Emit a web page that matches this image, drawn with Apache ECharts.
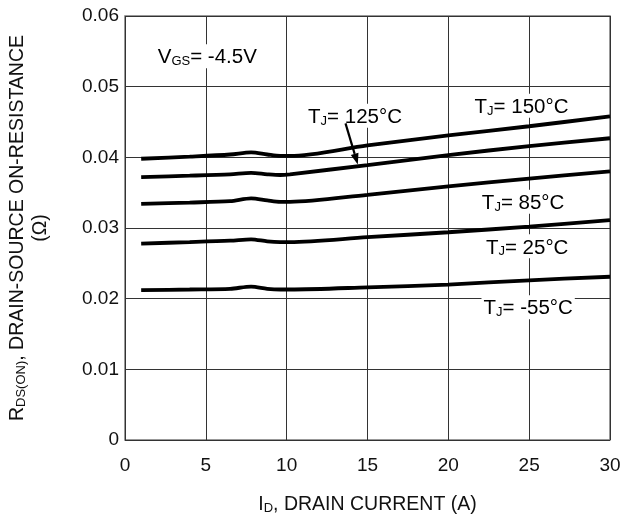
<!DOCTYPE html>
<html><head><meta charset="utf-8">
<script src="https://cdn.jsdelivr.net/npm/echarts@6/dist/echarts.min.js"></script>
<style>html,body{margin:0;padding:0;background:#fff}#c{width:625px;height:520px}</style>
</head><body><div id="c"></div>
<script>
var xTicks = [0, 5, 10, 15, 20, 25, 30];
var yTicks = [0, 0.01, 0.02, 0.03, 0.04, 0.05, 0.06];
var currentA = [1, 4, 6.5, 7.8, 8.8, 9.6, 10.2, 15, 20, 25, 30];
var r150 = [0.0398, 0.0401, 0.0404, 0.0407, 0.0404, 0.0402, 0.0402, 0.0417, 0.0431, 0.0444, 0.0458];
var r125 = [0.0372, 0.0374, 0.0376, 0.0378, 0.0376, 0.0375, 0.0376, 0.0389, 0.0403, 0.0416, 0.0427];
var r85  = [0.0334, 0.0336, 0.0338, 0.0342, 0.0339, 0.0337, 0.0337, 0.0347, 0.0359, 0.0370, 0.0380];
var r25  = [0.0278, 0.0280, 0.0282, 0.0284, 0.0281, 0.0280, 0.0280, 0.0287, 0.0294, 0.0302, 0.0311];
var rm55 = [0.0212, 0.0213, 0.0214, 0.0217, 0.0214, 0.0213, 0.0213, 0.0216, 0.0220, 0.0226, 0.0231];
var seriesNames = ['150', '125', '85', '25', '-55'];
var seriesVals = [r150, r125, r85, r25, rm55];
// annotations: rich text and anchor (left edge, vertical middle) in data coords
var annTexts = [
  '{m|V}{s|GS}{m|= -4.5V}',
  '{m|T}{s|J}{m|= 125\u00B0C}',
  '{m|T}{s|J}{m|= 150\u00B0C}',
  '{m|T}{s|J}{m|= 85\u00B0C}',
  '{m|T}{s|J}{m|= 25\u00B0C}',
  '{m|T}{s|J}{m|= -55\u00B0C}'
];
var annX = [1.9, 11.2, 21.5, 21.95, 22.2, 22.05];
var annY = [0.0543, 0.0459, 0.0473, 0.0337, 0.0274, 0.0188];
var arrowFrom = [13.64, 0.0448];
var arrowTo = [14.40, 0.0390];

var FONT = '"Liberation Sans", Arial, Helvetica, sans-serif';
var chart = echarts.init(document.getElementById('c'), null, {renderer: 'canvas'});
function mk(v) { return currentA.map(function (x, i) { return [x, v[i]]; }); }
var series = seriesVals.map(function (v, i) {
  return {
    name: seriesNames[i], type: 'line', data: mk(v), smooth: 0.3, symbol: 'none',
    lineStyle: {color: '#000', width: 3.8}, z: 3
  };
});
var richM = {
  m: {fontSize: 20.5, fontFamily: FONT, color: '#111', lineHeight: 24, verticalAlign: 'bottom'},
  s: {fontSize: 13, fontFamily: FONT, color: '#111', lineHeight: 4, verticalAlign: 'bottom'}
};
var axisRich = {
  m: {fontSize: 19.5, fontFamily: FONT, color: '#111', lineHeight: 23, verticalAlign: 'bottom'},
  s: {fontSize: 13, fontFamily: FONT, color: '#111', lineHeight: 4, verticalAlign: 'bottom'}
};
chart.setOption({
  animation: false,
  backgroundColor: '#fff',
  grid: {left: 123, right: 15, top: 16, bottom: 70, show: true, borderColor: '#777', borderWidth: 1.5, backgroundColor: 'transparent'},
  xAxis: {
    type: 'value', min: 0, max: 30, interval: 5,
    axisLine: {show: false}, axisTick: {show: false},
    axisLabel: {fontSize: 19, fontFamily: FONT, color: '#111', margin: 16,
      formatter: function (v) { return xTicks.indexOf(v) >= 0 ? String(v) : ''; }},
    splitLine: {show: true, lineStyle: {color: '#333', width: 1}},
    name: '{m|I}{s|D}{m|, DRAIN CURRENT (A)}', nameLocation: 'middle', nameGap: 52,
    nameTextStyle: {rich: axisRich}
  },
  yAxis: {
    type: 'value', min: 0, max: 0.06, interval: 0.01,
    axisLine: {show: false}, axisTick: {show: false},
    axisLabel: {fontSize: 19, fontFamily: FONT, color: '#111', margin: 6,
      formatter: function (v) { var i = yTicks.findIndex(function (t) { return Math.abs(t - v) < 1e-9; }); return i < 0 ? '' : (i === 0 ? '0' : yTicks[i].toFixed(2)); }},
    splitLine: {show: true, lineStyle: {color: '#333', width: 1}},
    name: '{m|R}{s|DS(ON)}{m|, DRAIN-SOURCE ON-RESISTANCE}\n{m|(\u03A9)}', nameLocation: 'middle', nameGap: 74, nameRotate: 90,
    nameTextStyle: {rich: axisRich, align: 'center'}
  },
  series: series
});

var g = [];
annTexts.forEach(function (t, i) {
  var p = chart.convertToPixel({gridIndex: 0}, [annX[i], annY[i]]);
  g.push({type: 'text', x: p[0], y: p[1], z: 10,
    style: {text: t, rich: richM, align: 'left', verticalAlign: 'middle', backgroundColor: '#fff', padding: [0, 2, 0, 2]}});
});
var a0 = chart.convertToPixel({gridIndex: 0}, arrowFrom);
var a1 = chart.convertToPixel({gridIndex: 0}, arrowTo);
var dx = a1[0] - a0[0], dy = a1[1] - a0[1], L = Math.sqrt(dx * dx + dy * dy);
var ux = dx / L, uy = dy / L, hl = 11, hw = 4;
var bx = a1[0] - ux * hl, by = a1[1] - uy * hl;
g.push({type: 'line', z: 11, shape: {x1: a0[0], y1: a0[1], x2: bx, y2: by}, style: {stroke: '#000', lineWidth: 2.2}});
g.push({type: 'polygon', z: 11, shape: {points: [[a1[0], a1[1]], [bx - uy * hw, by + ux * hw], [bx + uy * hw, by - ux * hw]]}, style: {fill: '#000'}});
chart.setOption({graphic: g});
</script></body></html>
